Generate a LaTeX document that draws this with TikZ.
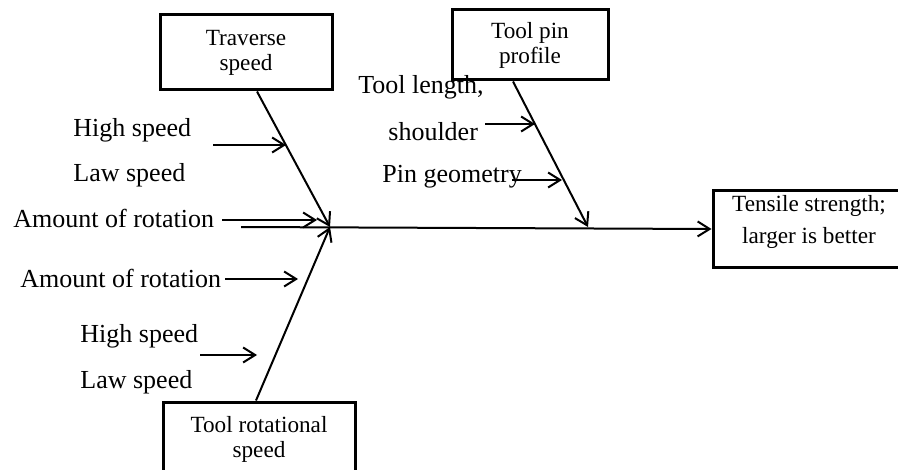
\documentclass[tikz,border=0pt]{standalone}
\usepackage{fontspec}
\setmainfont{Liberation Serif}
\usetikzlibrary{arrows.meta, positioning}

\tikzset{
    causebox/.style={draw, line width=1.5pt, align=center, inner sep=0pt,
        font=\fontsize{11.6}{12.5}\selectfont},
    causelabel/.style={anchor=west, inner sep=0pt, font=\fontsize{13}{15}\selectfont},
    fishline/.style={line width=1pt, -{Straight Barb[length=6pt, width=7.5pt]}},
}

\begin{document}
\begin{tikzpicture}[x=0.5pt, y=-0.5pt]
        \useasboundingbox (0,0) rectangle (898,470);

        % main causes and effect
        \node[causebox, minimum width=86pt, minimum height=37.5pt] (traverse) at (246,52.5) {Traverse\\speed};
        \node[causebox, minimum width=78pt, minimum height=35pt] (pinbox) at (530,45) {Tool pin\\profile};
        \node[causebox, minimum width=96pt, minimum height=38pt, text depth=10pt] (tensile) at (809,229) {Tensile strength;\\[3.5pt]larger is better};
        \node[causebox, minimum width=96pt, minimum height=37pt] (rotational) at (259,439) {Tool rotational\\speed};

        \coordinate (hub) at (330,227);
        \coordinate (pinhub) at (588,227);
        \coordinate (spinestart) at (241,227);

        % spine and branches
        \draw[fishline] (spinestart) -- (tensile.west);
        \draw[fishline] ([xshift=5.5pt]traverse.south) -- (hub);
        \draw[fishline] ([xshift=-8.5pt]pinbox.south) -- (pinhub);
        \draw[fishline] ([xshift=-1.5pt]rotational.north) -- (hub);

        % sub causes
        \node[causelabel] (highup) at (73,130) {High speed};
        \node[causelabel] (lawup) at (73,175) {Law speed};
        \node[causelabel] (amountup) at (13,218) {Amount of rotation};
        \node[causelabel] (amountdown) at (20,278) {Amount of rotation};
        \node[causelabel] (highdown) at (80,336) {High speed};
        \node[causelabel] (lawdown) at (80,382) {Law speed};
        \node[causelabel] (toollength) at (358,87) {Tool length,};
        \node[causelabel] (shoulder) at (388,132) {shoulder};
        \node[causelabel] (pingeo) at (382,177) {Pin geometry};

        \coordinate (a1) at (213,145);  \coordinate (b1) at (286,145);
        \coordinate (a2) at (222,220);  \coordinate (b2) at (317,220);
        \coordinate (a3) at (225,279);  \coordinate (b3) at (298,279);
        \coordinate (a4) at (200,355);  \coordinate (b4) at (257,355);
        \coordinate (a5) at (485,124);  \coordinate (b5) at (535,124);
        \coordinate (a6) at (512,180);  \coordinate (b6) at (562,180);

        \foreach \i in {1,...,6} {
            \draw[fishline] (a\i) -- (b\i);
        }
\end{tikzpicture}
\end{document}
